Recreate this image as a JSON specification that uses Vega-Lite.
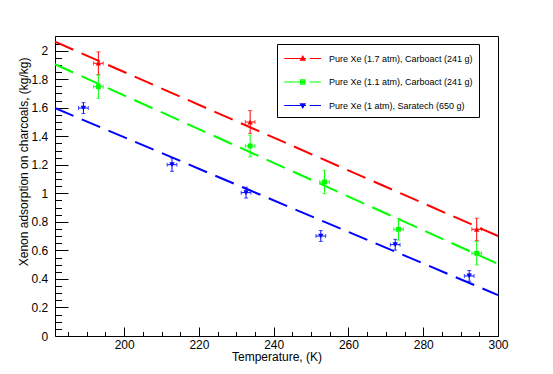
{
  "$schema": "https://vega.github.io/schema/vega-lite/v6.json",
  "width": 443,
  "height": 300,
  "autosize": {"type": "none"},
  "padding": {"left": 55, "top": 36, "right": 55, "bottom": 38},
  "background": "white",
  "config": {
    "view": {"stroke": "black", "strokeWidth": 1},
    "font": "Liberation Sans",
    "axis": {
      "domain": false, "grid": false, "tickColor": "black", "tickWidth": 1,
      "labelColor": "black", "titleColor": "black",
      "labelFont": "Liberation Sans", "titleFont": "Liberation Sans",
      "labelFontSize": 12, "titleFontSize": 12, "titleFontWeight": "normal"
    }
  },
  "datasets": {
    "fits": [
      {"series": "Pure Xe (1.7 atm), Carboact (241 g)", "x": 181.5, "y": 2.063},
      {"series": "Pure Xe (1.7 atm), Carboact (241 g)", "x": 300, "y": 0.701},
      {"series": "Pure Xe (1.1 atm), Carboact (241 g)", "x": 181.5, "y": 1.905},
      {"series": "Pure Xe (1.1 atm), Carboact (241 g)", "x": 300, "y": 0.505},
      {"series": "Pure Xe (1 atm), Saratech (650 g)", "x": 181.5, "y": 1.598},
      {"series": "Pure Xe (1 atm), Saratech (650 g)", "x": 300, "y": 0.287}
    ],
    "pts": [
      {"series": "Pure Xe (1.7 atm), Carboact (241 g)", "x": 193.1, "y": 1.912, "xlo": 191.8, "xhi": 194.4, "ylo": 1.832, "yhi": 1.992},
      {"series": "Pure Xe (1.7 atm), Carboact (241 g)", "x": 233.7, "y": 1.5, "xlo": 232.4, "xhi": 235.0, "ylo": 1.42, "yhi": 1.58},
      {"series": "Pure Xe (1.7 atm), Carboact (241 g)", "x": 294.3, "y": 0.748, "xlo": 293.0, "xhi": 295.6, "ylo": 0.67, "yhi": 0.826},
      {"series": "Pure Xe (1.1 atm), Carboact (241 g)", "x": 193.1, "y": 1.748, "xlo": 191.8, "xhi": 194.4, "ylo": 1.666, "yhi": 1.83},
      {"series": "Pure Xe (1.1 atm), Carboact (241 g)", "x": 233.7, "y": 1.332, "xlo": 232.4, "xhi": 235.0, "ylo": 1.256, "yhi": 1.408},
      {"series": "Pure Xe (1.1 atm), Carboact (241 g)", "x": 253.6, "y": 1.08, "xlo": 252.3, "xhi": 254.9, "ylo": 0.998, "yhi": 1.162},
      {"series": "Pure Xe (1.1 atm), Carboact (241 g)", "x": 273.4, "y": 0.748, "xlo": 272.1, "xhi": 274.7, "ylo": 0.672, "yhi": 0.824},
      {"series": "Pure Xe (1.1 atm), Carboact (241 g)", "x": 294.3, "y": 0.58, "xlo": 293.0, "xhi": 295.6, "ylo": 0.498, "yhi": 0.662},
      {"series": "Pure Xe (1 atm), Saratech (650 g)", "x": 189.1, "y": 1.598, "xlo": 187.8, "xhi": 190.4, "ylo": 1.56, "yhi": 1.636},
      {"series": "Pure Xe (1 atm), Saratech (650 g)", "x": 212.8, "y": 1.201, "xlo": 211.5, "xhi": 214.1, "ylo": 1.154, "yhi": 1.248},
      {"series": "Pure Xe (1 atm), Saratech (650 g)", "x": 232.6, "y": 1.005, "xlo": 231.3, "xhi": 233.9, "ylo": 0.967, "yhi": 1.043},
      {"series": "Pure Xe (1 atm), Saratech (650 g)", "x": 252.6, "y": 0.701, "xlo": 251.3, "xhi": 253.9, "ylo": 0.663, "yhi": 0.739},
      {"series": "Pure Xe (1 atm), Saratech (650 g)", "x": 272.5, "y": 0.64, "xlo": 271.2, "xhi": 273.8, "ylo": 0.602, "yhi": 0.678},
      {"series": "Pure Xe (1 atm), Saratech (650 g)", "x": 292.3, "y": 0.421, "xlo": 291.0, "xhi": 293.6, "ylo": 0.383, "yhi": 0.459}
    ]
  },
  "layer": [
    {
      "data": {"name": "fits"},
      "mark": {"type": "line", "strokeWidth": 2, "strokeDash": [20, 9]},
      "encoding": {
        "x": {"field": "x", "type": "quantitative", "scale": {"domain": [181.5, 300], "nice": false, "zero": false},
              "axis": {"orient": "bottom", "title": "Temperature, (K)", "values": [200, 220, 240, 260, 280, 300], "tickSize": -9, "labelPadding": 12, "titleY": 24.7, "titleBaseline": "alphabetic", "labelFlush": false}},
        "y": {"field": "y", "type": "quantitative", "scale": {"domain": [0, 2.103], "nice": false, "zero": false},
              "axis": {"orient": "left", "title": "Xenon adsorption on charcoals, (kg/kg)", "values": [0, 0.2, 0.4, 0.6, 0.8, 1, 1.2, 1.4, 1.6, 1.8, 2], "format": "~g", "tickSize": -13, "labelPadding": 20.3, "titleX": -27.7, "titleY": 21, "titleAlign": "right", "titleAngle": 270, "titleBaseline": "alphabetic", "labelFlush": false}},
        "color": {"field": "series", "type": "nominal", "legend": null,
                  "scale": {"domain": ["Pure Xe (1.7 atm), Carboact (241 g)", "Pure Xe (1.1 atm), Carboact (241 g)", "Pure Xe (1 atm), Saratech (650 g)"], "range": ["#ff0000", "#00ff00", "#0000ff"]}},
        "detail": {"field": "series"}
      }
    },
    {
      "data": {"name": "pts"},
      "mark": {"type": "rule", "strokeWidth": 1},
      "encoding": {
        "x": {"field": "xlo", "type": "quantitative",
              "axis": {"orient": "bottom", "title": null, "labels": false, "values": [185, 190, 195, 205, 210, 215, 225, 230, 235, 245, 250, 255, 265, 270, 275, 285, 290, 295], "tickSize": -4.5}},
        "x2": {"field": "xhi"},
        "y": {"field": "y", "type": "quantitative",
              "axis": {"orient": "left", "title": null, "labels": false, "values": [0.05, 0.1, 0.15, 0.25, 0.3, 0.35, 0.45, 0.5, 0.55, 0.65, 0.7, 0.75, 0.85, 0.9, 0.95, 1.05, 1.1, 1.15, 1.25, 1.3, 1.35, 1.45, 1.5, 1.55, 1.65, 1.7, 1.75, 1.85, 1.9, 1.95, 2.05, 2.1], "tickSize": -6.5}},
        "color": {"field": "series", "type": "nominal", "legend": null}
      }
    },
    {
      "data": {"name": "pts"},
      "mark": {"type": "rule", "strokeWidth": 1},
      "encoding": {
        "x": {"field": "x", "type": "quantitative", "axis": null},
        "y": {"field": "ylo", "type": "quantitative", "axis": null},
        "y2": {"field": "yhi"},
        "color": {"field": "series", "type": "nominal", "legend": null}
      }
    },
    {
      "data": {"name": "pts"},
      "mark": {"type": "tick", "orient": "horizontal", "size": 4, "thickness": 1},
      "encoding": {
        "x": {"field": "x", "type": "quantitative", "axis": null},
        "y": {"field": "ylo", "type": "quantitative", "axis": null},
        "color": {"field": "series", "type": "nominal", "legend": null}
      }
    },
    {
      "data": {"name": "pts"},
      "mark": {"type": "tick", "orient": "horizontal", "size": 4, "thickness": 1},
      "encoding": {
        "x": {"field": "x", "type": "quantitative", "axis": null},
        "y": {"field": "yhi", "type": "quantitative", "axis": null},
        "color": {"field": "series", "type": "nominal", "legend": null}
      }
    },
    {
      "data": {"name": "pts"},
      "mark": {"type": "tick", "orient": "vertical", "size": 4, "thickness": 1},
      "encoding": {
        "x": {"field": "xlo", "type": "quantitative", "axis": null},
        "y": {"field": "y", "type": "quantitative", "axis": null},
        "color": {"field": "series", "type": "nominal", "legend": null}
      }
    },
    {
      "data": {"name": "pts"},
      "mark": {"type": "tick", "orient": "vertical", "size": 4, "thickness": 1},
      "encoding": {
        "x": {"field": "xhi", "type": "quantitative", "axis": null},
        "y": {"field": "y", "type": "quantitative", "axis": null},
        "color": {"field": "series", "type": "nominal", "legend": null}
      }
    },
    {
      "data": {"name": "pts"},
      "transform": [{"filter": "datum.series === 'Pure Xe (1.7 atm), Carboact (241 g)'"}],
      "mark": {"type": "point", "filled": true, "opacity": 1, "size": 30, "strokeWidth": 0, "shape": "triangle-up"},
      "encoding": {
        "x": {"field": "x", "type": "quantitative", "axis": null},
        "y": {"field": "y", "type": "quantitative", "axis": null},
        "color": {"field": "series", "type": "nominal", "legend": null}
      }
    },
    {
      "data": {"name": "pts"},
      "transform": [{"filter": "datum.series === 'Pure Xe (1.1 atm), Carboact (241 g)'"}],
      "mark": {"type": "point", "filled": true, "opacity": 1, "size": 24, "strokeWidth": 0, "shape": "square"},
      "encoding": {
        "x": {"field": "x", "type": "quantitative", "axis": null},
        "y": {"field": "y", "type": "quantitative", "axis": null},
        "color": {"field": "series", "type": "nominal", "legend": null}
      }
    },
    {
      "data": {"name": "pts"},
      "transform": [{"filter": "datum.series === 'Pure Xe (1 atm), Saratech (650 g)'"}],
      "mark": {"type": "point", "filled": true, "opacity": 1, "size": 30, "strokeWidth": 0, "shape": "triangle-down"},
      "encoding": {
        "x": {"field": "x", "type": "quantitative", "axis": null},
        "y": {"field": "y", "type": "quantitative", "axis": null},
        "color": {"field": "series", "type": "nominal", "legend": null}
      }
    },
    {
      "data": {"name": "pts"},
      "mark": {"type": "point", "filled": false, "opacity": 0, "size": 1},
      "encoding": {
        "x": {"field": "x", "type": "quantitative", "axis": null},
        "y": {"field": "y", "type": "quantitative", "axis": null},
        "shape": {"field": "series", "type": "nominal",
                  "scale": {"domain": ["Pure Xe (1.7 atm), Carboact (241 g)", "Pure Xe (1.1 atm), Carboact (241 g)", "Pure Xe (1 atm), Saratech (650 g)"],
                            "range": [
                              "M-2.47,0L0.43,0M0.91,0L2.43,0M-0.3,0.22L0.3,0.22L0,-0.3ZM-0.12,0.1L0.12,0.1L0,-0.1Z",
                              "M-2.47,0L0.43,0M0.91,0L2.43,0M-0.28,-0.28L0.28,-0.28L0.28,0.28L-0.28,0.28ZM-0.1,-0.1L0.1,-0.1L0.1,0.1L-0.1,0.1Z",
                              "M-2.47,0L0.43,0M0.91,0L2.43,0M-0.3,-0.22L0.3,-0.22L0,0.3ZM-0.12,-0.1L0.12,-0.1L0,0.1Z"
                            ]}},
        "color": {"field": "series", "type": "nominal",
                  "legend": {
                    "title": null, "orient": "none", "legendX": 222, "legendY": 8,
                    "padding": 6, "rowPadding": 9.5, "symbolSize": 225, "symbolStrokeWidth": 1.2, "symbolOpacity": 1,
                    "symbolOffset": 11.25, "labelOffset": 17.8, "labelFontSize": 9, "labelFont": "Liberation Sans",
                    "labelColor": "black", "strokeColor": "black", "fillColor": "white",
                    "labelExpr": "datum.label + '\u00a0\u00a0\u00a0\u00a0\u00a0'"
                  }}
      }
    }
  ],
  "resolve": {"axis": {"x": "independent", "y": "independent"}, "legend": {"color": "independent", "shape": "independent"}}
}
